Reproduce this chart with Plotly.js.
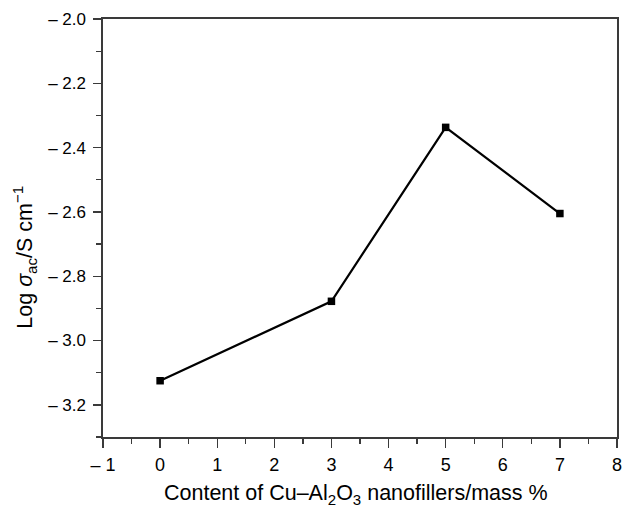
<!DOCTYPE html>
<html><head><meta charset="utf-8">
<script src="https://cdn.plot.ly/plotly-3.0.1.min.js"></script>
<style>html,body{margin:0;padding:0;background:#fff}</style>
</head><body>
<div id="chart" style="width:623px;height:507px"></div>
<script>
const content = [0, 3, 5, 7];
const logSigma = [-3.125, -2.878, -2.337, -2.605];
const xTickVals = [-1, 0, 1, 2, 3, 4, 5, 6, 7, 8];
const xTickText = ['– 1', '0', '1', '2', '3', '4', '5', '6', '7', '8'];
const yTickVals = [-3.2, -3.0, -2.8, -2.6, -2.4, -2.2, -2.0];
const yTickText = ['– 3.2', '– 3.0', '– 2.8', '– 2.6', '– 2.4', '– 2.2', '– 2.0'];
const xTitle = 'Content of Cu–Al<sub>2</sub>O<sub>3</sub> nanofillers/mass %';
const yTitle = 'Log <i>σ</i><sub>ac</sub>/S cm<sup>−1</sup>';

const trace = {
  x: content, y: logSigma, type: 'scatter', mode: 'lines+markers',
  line: {color: '#000', width: 2.2},
  marker: {symbol: 'square', size: 7.5, color: '#000'},
  cliponaxis: false
};
const fontFam = 'Liberation Sans, Arial, Helvetica, sans-serif';
const axisColor = '#3a3a3a';
const layout = {
  width: 623, height: 507,
  margin: {l: 103, r: 6, t: 19, b: 70},
  paper_bgcolor: '#fff', plot_bgcolor: '#fff',
  showlegend: false,
  font: {family: fontFam, size: 17, color: '#000'},
  xaxis: {
    range: [-1, 8], tickmode: 'array', tickvals: xTickVals, ticktext: xTickText,
    showgrid: false, zeroline: false, showline: true, linecolor: axisColor, linewidth: 1.6,
    mirror: true, ticks: 'outside', ticklen: 9, tickwidth: 1.4, tickcolor: axisColor,
    ticklabelstandoff: 2,
    minor: {tickmode: 'linear', tick0: -1, dtick: 0.5, ticks: 'outside', ticklen: 5, tickwidth: 1.3, tickcolor: axisColor, showgrid: false},
    tickfont: {size: 18, family: fontFam, color: '#000'}
  },
  yaxis: {
    range: [-3.3, -2.0], tickmode: 'array', tickvals: yTickVals, ticktext: yTickText,
    showgrid: false, zeroline: false, showline: true, linecolor: axisColor, linewidth: 1.6,
    mirror: true, ticks: 'outside', ticklen: 8, tickwidth: 1.4, tickcolor: axisColor,
    ticklabelstandoff: 4,
    minor: {tickmode: 'linear', tick0: -3.3, dtick: 0.1, ticks: 'outside', ticklen: 5, tickwidth: 1.3, tickcolor: axisColor, showgrid: false},
    tickfont: {size: 17, family: fontFam, color: '#000'}
  },
  annotations: [
    {text: xTitle, xref: 'paper', yref: 'paper', x: 0.492, y: -0.100, xanchor: 'center', yanchor: 'top',
     showarrow: false, font: {size: 21.5, family: fontFam, color: '#000'}},
    {text: yTitle, xref: 'paper', yref: 'paper', x: -0.152, y: 0.431, xanchor: 'center', yanchor: 'middle',
     textangle: -90, showarrow: false, font: {size: 21.5, family: fontFam, color: '#000'}}
  ]
};
Plotly.newPlot('chart', [trace], layout, {displayModeBar: false, staticPlot: true});
</script>
</body></html>
